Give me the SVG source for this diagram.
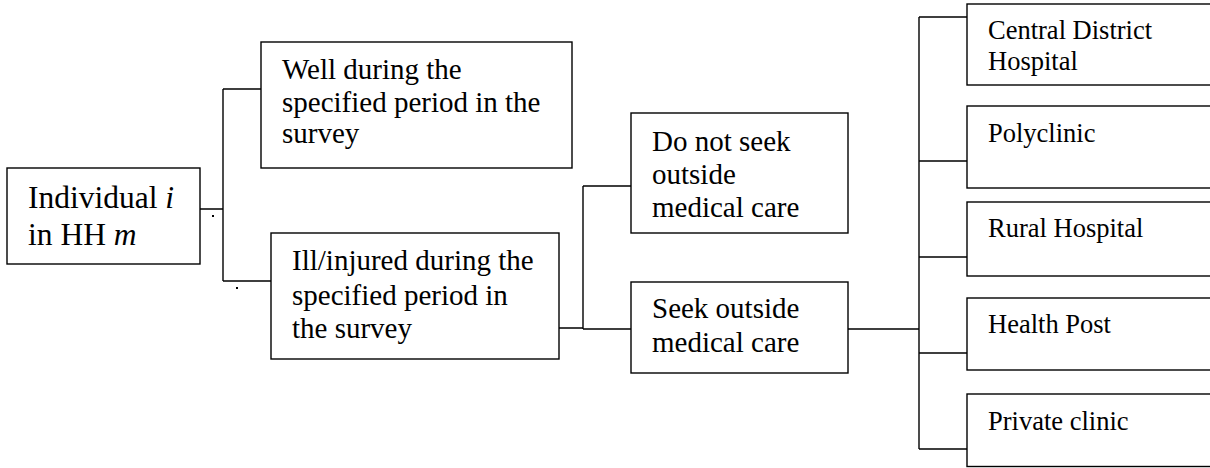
<svg xmlns="http://www.w3.org/2000/svg" width="1210" height="468" viewBox="0 0 1210 468">
<style>
.box{fill:#fff;stroke:#000;stroke-width:1.4}
.ln{fill:none;stroke:#000;stroke-width:1.4}
text{font-family:"Liberation Serif","Times New Roman",serif;fill:#000}
.t31{font-size:31.5px}
.t29{font-size:29px}
.t26{font-size:26.5px}
</style>
<rect width="1210" height="468" fill="#fff"/>
<g id="connectors">
<path class="ln" d="M200,209H223M223,89V281M223,89H271M223,281H271"/>
<path class="ln" d="M559,328H583M583,186V329M583,186H631M583,329H631"/>
<path class="ln" d="M848,329H919M919,17V449M919,17H967M919,161H967M919,257H967M919,353H967M919,449H967"/>
<rect x="212" y="215" width="2" height="2" fill="#000"/>
<rect x="236" y="287" width="2" height="2" fill="#000"/>
</g>
<g id="individual">
<rect class="box" x="7" y="168" width="193" height="96"/>
<text class="t31" x="28" y="208">Individual <tspan font-style="italic">i</tspan></text>
<text class="t31" x="28" y="245">in HH <tspan font-style="italic">m</tspan></text>
</g>
<g id="well">
<rect class="box" x="261" y="42" width="311" height="126"/>
<text class="t29" x="282" y="79">Well during the</text>
<text class="t29" x="282" y="112">specified period in the</text>
<text class="t29" x="282" y="143">survey</text>
</g>
<g id="ill">
<rect class="box" x="271" y="233" width="288" height="126"/>
<text class="t29" x="292" y="270">Ill/injured during the</text>
<text class="t29" x="292" y="305">specified period in</text>
<text class="t29" x="292" y="338">the survey</text>
</g>
<g id="noseek">
<rect class="box" x="631" y="113" width="217" height="120"/>
<text class="t29" x="652" y="151">Do not seek</text>
<text class="t29" x="652" y="184">outside</text>
<text class="t29" x="652" y="217">medical care</text>
</g>
<g id="seek">
<rect class="box" x="631" y="282" width="217" height="91"/>
<text class="t29" x="652" y="318">Seek outside</text>
<text class="t29" x="652" y="352">medical care</text>
</g>
<g id="central">
<rect class="box" x="967" y="4" width="260" height="81"/>
<text class="t26" x="988" y="39">Central District</text>
<text class="t26" x="988" y="70">Hospital</text>
</g>
<g id="polyclinic">
<rect class="box" x="967" y="106" width="260" height="82"/>
<text class="t26" x="988" y="142">Polyclinic</text>
</g>
<g id="rural">
<rect class="box" x="967" y="202" width="260" height="74"/>
<text class="t26" x="988" y="237">Rural Hospital</text>
</g>
<g id="healthpost">
<rect class="box" x="967" y="298" width="260" height="72"/>
<text class="t26" x="988" y="333">Health Post</text>
</g>
<g id="private">
<rect class="box" x="967" y="394" width="260" height="72.5"/>
<text class="t26" x="988" y="430">Private clinic</text>
</g>
</svg>
